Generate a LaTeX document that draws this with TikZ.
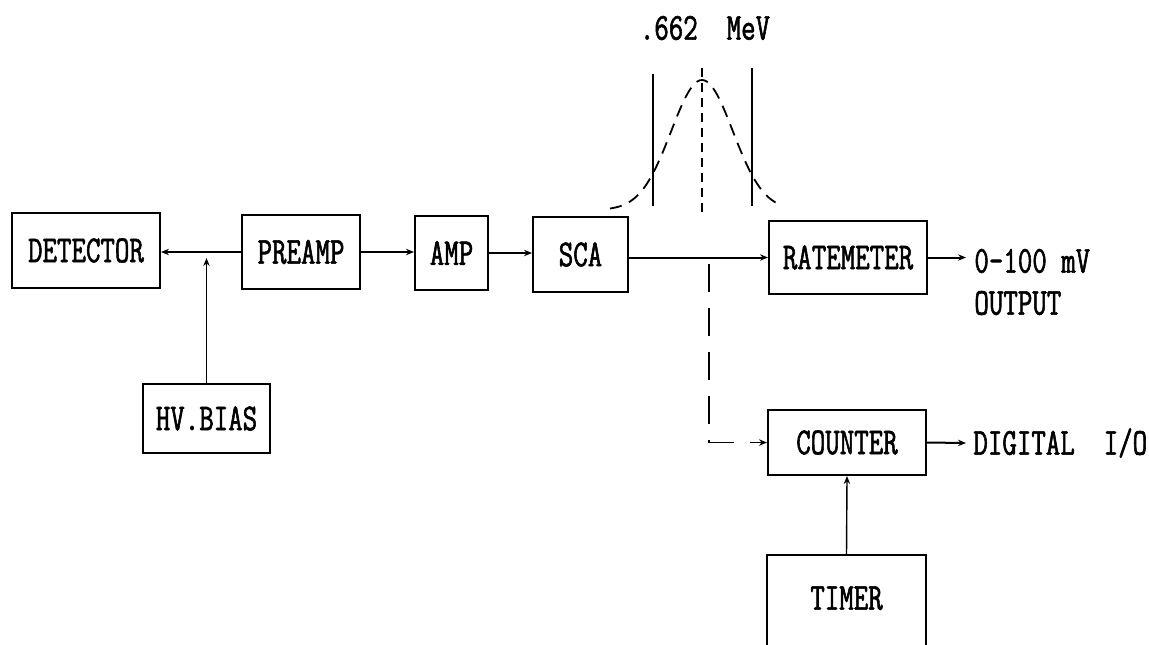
\documentclass[tikz,border=0pt]{standalone}
\usepackage{fontspec}
\usepackage{tikz}
\usetikzlibrary{arrows.meta,calc}
\newfontfamily\dotfont[FakeStretch=0.74,FakeBold=1.5]{Latin Modern Mono}
\begin{document}
\begin{tikzpicture}[
    x=0.5pt,y=-0.5pt,
    font=\dotfont\fontsize{19}{23}\selectfont,
    >={Stealth[length=4pt,width=3.2pt]},
    flow/.style={->,line width=1pt,draw=black},
    feed/.style={->,line width=0.7pt,draw=black},
    branch/.style={->,line width=0.9pt,dash pattern=on 14pt off 8pt},
    unit/.style={draw=black,line width=1pt,inner sep=0pt,align=center},
    lbl/.style={inner sep=0pt,anchor=west}
  ]
    \clip (0,0) rectangle (1149,644);

    % Main signal chain.
    \node[unit,minimum width=74pt,minimum height=37.5pt] (det) at (86,250.5) {DETECTOR};
    \node[unit,minimum width=59pt,minimum height=37pt] (preamp) at (301,252) {PREAMP};
    \node[unit,minimum width=36.5pt,minimum height=37pt] (amp) at (451.5,253) {AMP};
    \node[unit,minimum width=47.5pt,minimum height=37.5pt] (sca) at (580.5,254.5) {SCA};
    \node[unit,minimum width=79pt,minimum height=36.5pt] (rate) at (848,257.5) {RATEMETER};
    \node[unit,minimum width=63.5pt,minimum height=34.5pt] (hv) at (206.5,418.5) {HV.BIAS};
    \node[unit,minimum width=79pt,minimum height=32.5pt] (counter) at (847,442.5) {COUNTER};
    \node[unit,minimum width=79.5pt,minimum height=50pt,text depth=7pt] (timer)
      at (846.5,605) {TIMER};

    \coordinate (bias) at (hv.north |- preamp.west);
    \coordinate (split) at (709,0 |- rate.west);

    \draw[flow] (preamp.west) -- (preamp.west -| det.east);
    \draw[feed] (hv.north) -- ($(bias)+(0,6)$);
    \draw[flow] (preamp.east) -- (preamp.east -| amp.west);
    \draw[flow] (amp.east) -- (amp.east -| sca.west);
    \draw[flow] (sca.east |- rate.west) -- (rate.west);
    \draw[branch] ($(split)+(0,6)$) |- (counter.west);
    \draw[feed] (timer.north) -- (counter.south);

    % Outputs.
    \node[lbl] (outv) at (974,261) {0-100 mV};
    \node[lbl] (outlbl) at (974,303) {OUTPUT};
    \node[lbl] (dio) at (973,443) {DIGITAL\ \ I/O};
    \draw[flow] (rate.east) -- ($(rate.east -| outv.west)+(-8,0)$);
    \draw[flow] (counter.east) -- ($(dio.west)+(-7,0)$);

    % Energy window on the photopeak.
    \node[inner sep=0pt] (peak) at (705,28) {.662\ \ MeV};
    \draw[line width=0.9pt] (653,74) -- (653,206);
    \draw[line width=0.9pt] (752,68) -- (752,206);
    \draw[line width=0.9pt,dash pattern=on 4.5pt off 3pt] (702,68) -- (702,215);
    \draw[line width=0.9pt,dash pattern=on 6pt off 4pt]
      plot[domain=-92:80,samples=70] ({702+\x},{210-130*exp(-(\x*\x)/1900)});
  \end{tikzpicture}
\end{document}
